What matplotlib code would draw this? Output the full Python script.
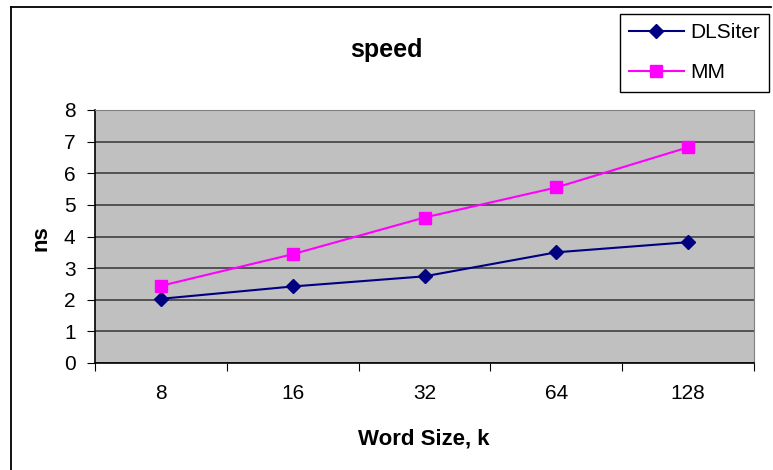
import matplotlib.pyplot as plt
from matplotlib.lines import Line2D

plt.rcParams['font.family'] = ['Liberation Sans', 'DejaVu Sans']

# data
word_sizes = ['8', '16', '32', '64', '128']
dlsiter = [2.03, 2.42, 2.74, 3.50, 3.82]
mm = [2.44, 3.44, 4.60, 5.55, 6.82]

W, H = 773, 470
fig = plt.figure(figsize=(W / 100, H / 100), dpi=100)
ax = fig.add_axes([95 / W, 1 - 363 / H, 659 / W, 253 / H])
ax.set_facecolor('#C0C0C0')

x = list(range(len(word_sizes)))
ax.plot(x, dlsiter, color='#000080', marker='D', markersize=7.5, linewidth=1.5, label='DLSiter')
ax.plot(x, mm, color='#FF00FF', marker='s', markersize=8.5, linewidth=1.5, label='MM')

ax.set_xlim(-0.5, len(word_sizes) - 0.5)
ax.set_ylim(0, 8)
ax.set_yticks(range(0, 9))
ax.yaxis.grid(True, color='#404040', linewidth=1.2)
ax.set_axisbelow(True)

# category labels centred, tick marks between categories
ax.set_xticks([i - 0.5 for i in range(len(word_sizes) + 1)])
ax.set_xticklabels([])
ax.set_xticks(x, minor=True)
ax.set_xticklabels(word_sizes, minor=True)
ax.tick_params(axis='x', which='minor', length=0, pad=15, labelsize=15)
ax.tick_params(axis='x', which='major', length=6, direction='out', color='black')
ax.tick_params(axis='y', length=6, labelsize=15, pad=8)

for side in ['top', 'right']:
    ax.spines[side].set_color('#808080')
for side in ['left', 'bottom']:
    ax.spines[side].set_color('black')
    ax.spines[side].set_linewidth(1.2)

fig.text(386 / W, 1 - 57 / H, 'speed', fontsize=18, fontweight='bold', ha='center', va='baseline')
fig.text(424 / W, 1 - 444 / H, 'Word Size, k', fontsize=16, fontweight='bold', ha='center', va='baseline')
fig.text(41 / W, 1 - 238 / H, 'ns', fontsize=16, fontweight='bold', rotation=90, ha='center', va='center')

leg = fig.legend(loc='upper left', bbox_to_anchor=(620 / W, 1 - 14 / H),
                 fontsize=15, frameon=True, fancybox=False, edgecolor='black',
                 framealpha=1, handlelength=2.6, borderpad=0.45, borderaxespad=0,
                 labelspacing=1.0, handletextpad=0.3)
leg.get_frame().set_linewidth(1.0)

# chart frame (only left and top edges show)
fig.add_artist(Line2D([11 / W, 11 / W], [0, 1 - 7 / H], transform=fig.transFigure,
                      color='black', linewidth=1.3))
fig.add_artist(Line2D([11 / W, 771 / W], [1 - 7 / H, 1 - 7 / H], transform=fig.transFigure,
                      color='black', linewidth=1.3))

fig.savefig('out.png', dpi=100)
